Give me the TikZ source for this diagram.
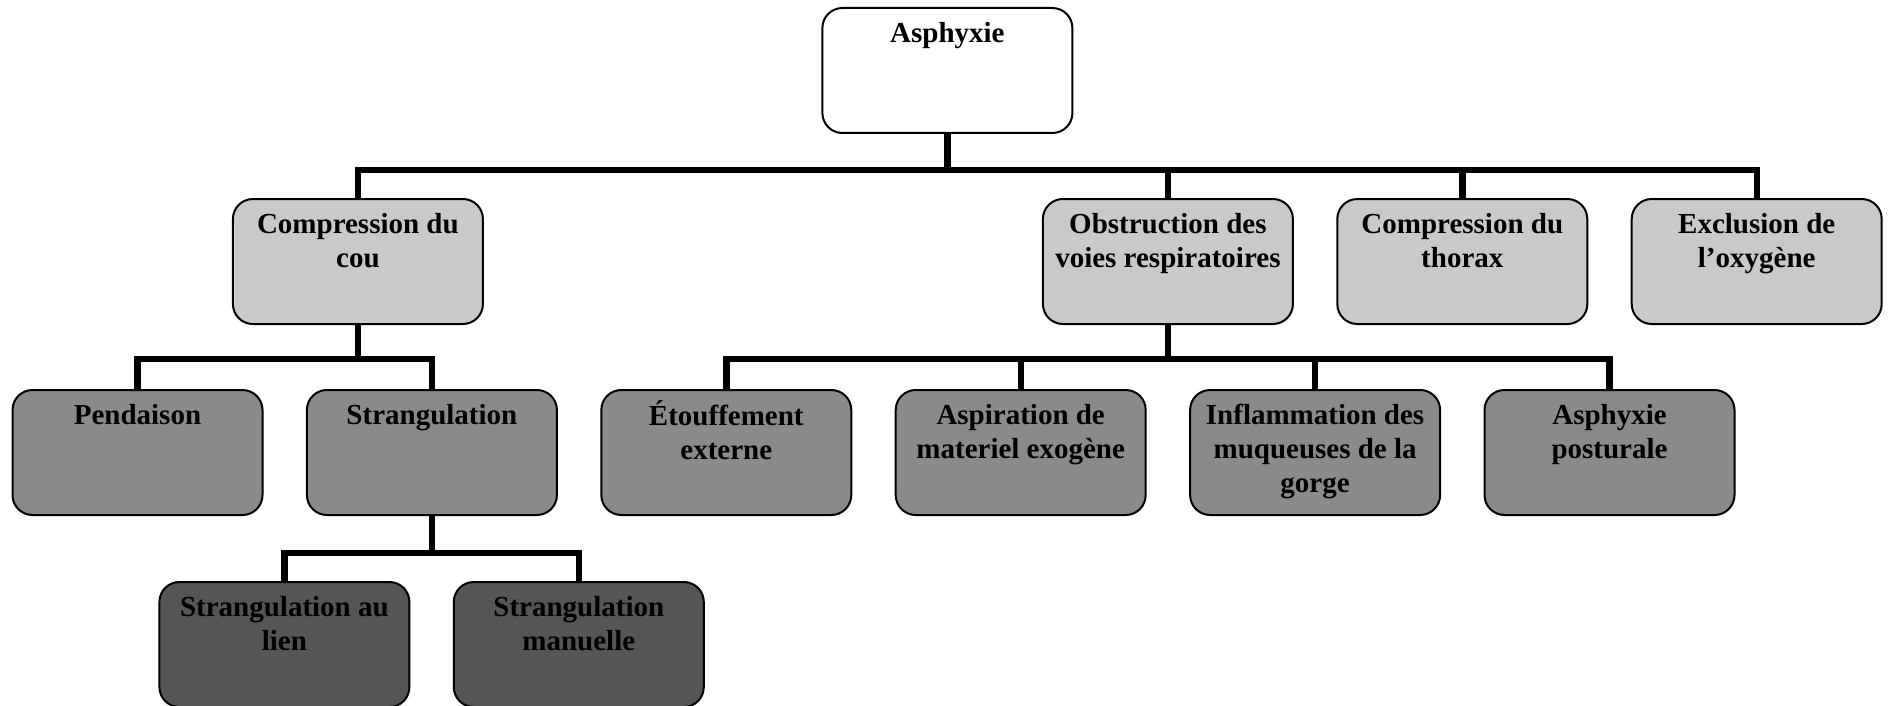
\documentclass[tikz,border=0pt]{standalone}
\usepackage{fontspec}
\setmainfont{Liberation Serif}
\usepackage{tikz}
\usetikzlibrary{positioning, calc}
\usepackage{xcolor}

\definecolor{lvlone}{HTML}{C9C9C9}
\definecolor{lvltwo}{HTML}{8A8A8A}
\definecolor{lvlthree}{HTML}{555555}

\newcommand{\boxtxt}[1]{\parbox[c][51.5pt][t]{121pt}{\centering\strut #1}}

\tikzset{
    cell/.style = {rectangle, rounded corners = 10pt, draw, line width = 1pt,
        inner xsep = 2pt, inner ysep = 5.5pt,
        font = \fontsize{14.5pt}{17pt}\selectfont\bfseries},
    link/.style = {line width = 3.2pt}
}

\begin{document}
\begin{tikzpicture}[node distance = 32pt and 21.2pt]
    \useasboundingbox (0,0) rectangle (944.5pt,-353pt);
    % rang du milieu
    \node[cell, fill = lvltwo] (pend) at (68.75pt,-226.25pt){\boxtxt{Pendaison}};
    \node[cell, fill = lvltwo] (strang)[right = of pend]{\boxtxt{Strangulation}};
    \node[cell, fill = lvltwo] (etouf)[right = of strang]{\boxtxt{Étouffement\\externe}};
    \node[cell, fill = lvltwo] (aspir)[right = of etouf]{\boxtxt{Aspiration de\\materiel exogène}};
    \node[cell, fill = lvltwo] (inflam)[right = of aspir]{\boxtxt{Inflammation des\\muqueuses de la\\gorge}};
    \node[cell, fill = lvltwo] (postur)[right = of inflam]{\boxtxt{Asphyxie\\posturale}};

    \node[cell, fill = lvlone] (cou)[above = of strang, xshift = -37pt]{\boxtxt{Compression du\\cou}};
    \node[cell, fill = lvlone] (obstr)[above = of $(aspir.north)!0.5!(inflam.north)$]{\boxtxt{Obstruction des\\voies respiratoires}};
    \node[cell, fill = lvlone] (thorax)[right = of obstr]{\boxtxt{Compression du\\thorax}};
    \node[cell, fill = lvlone] (excl)[right = of thorax]{\boxtxt{Exclusion de\\l’oxygène}};

    \node[cell, fill = white] (root)[above = of obstr, xshift = -110.25pt]{\boxtxt{Asphyxie}};

    \node[cell, fill = lvlthree] (lien)[below = 32.5pt of strang, xshift = -73.75pt]{\boxtxt{Strangulation au\\lien}};
    \node[cell, fill = lvlthree] (manu)[right = of lien]{\boxtxt{Strangulation\\manuelle}};

    % barres
    \coordinate (b0) at ($(root.south)+(0,-18pt)$);
    \coordinate (b1) at ($(cou.south)+(0,-17pt)$);
    \coordinate (b2) at ($(obstr.south)+(0,-17pt)$);
    \coordinate (b3) at ($(strang.south)+(0,-18.5pt)$);

    \draw[link] (root.south) -- (b0);
    \draw[link] (cou.north) |- (b0) -| (excl.north);
    \draw[link] (obstr.north) -- (obstr.north |- b0);
    \draw[link] (thorax.north) -- (thorax.north |- b0);

    \draw[link] (cou.south) -- (b1);
    \draw[link] (pend.north) |- (b1) -| (strang.north);

    \draw[link] (obstr.south) -- (b2);
    \draw[link] (etouf.north) |- (b2) -| (postur.north);
    \draw[link] (aspir.north) -- (aspir.north |- b2);
    \draw[link] (inflam.north) -- (inflam.north |- b2);

    \draw[link] (strang.south) -- (b3);
    \draw[link] (lien.north) |- (b3) -| (manu.north);
\end{tikzpicture}
\end{document}
